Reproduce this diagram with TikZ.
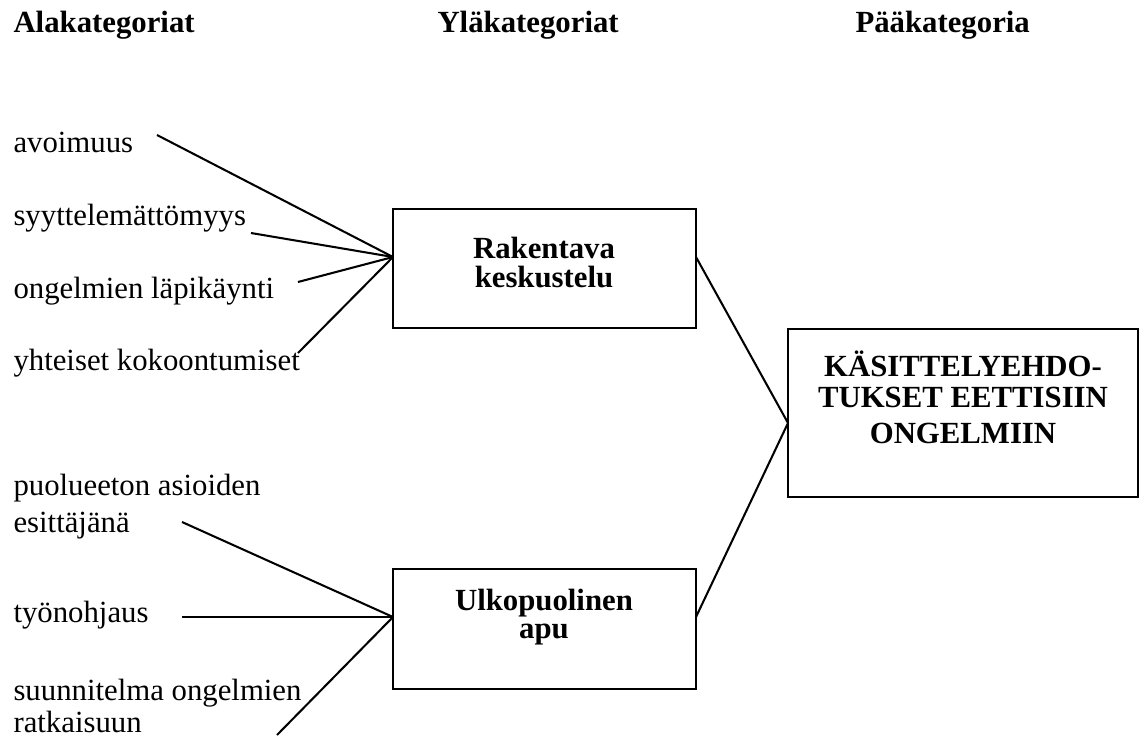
\documentclass[tikz,border=0pt]{standalone}
\usepackage{fontspec}
\setmainfont{Liberation Serif}
\usetikzlibrary{fit}
\begin{document}
\begin{tikzpicture}[x=0.39pt,y=-0.39pt,
  lbl/.style={anchor=base west,inner sep=0pt,font=\fontsize{12}{14}\selectfont},
  head/.style={anchor=base west,inner sep=0pt,font=\fontsize{12}{14}\selectfont\bfseries},
  boxtxt/.style={anchor=base,inner sep=0pt,font=\fontsize{12}{14}\selectfont\bfseries},
  catbox/.style={draw,line width=0.8pt,inner sep=0pt},
  link/.style={line width=0.8pt}]
\useasboundingbox (0,0) rectangle (1140,735);

% column headings
\node[head] (h1) at (13,32) {Alakategoriat};
\node[head] (h2) at (437,32) {Yläkategoriat};
\node[head] (h3) at (855,32) {Pääkategoria};

% subcategories
\node[lbl] (a1) at (13,152) {avoimuus};
\node[lbl] (a2) at (13,225) {syyttelemättömyys};
\node[lbl] (a3) at (13,298) {ongelmien läpikäynti};
\node[lbl] (a4) at (13,370) {yhteiset kokoontumiset};
\node[lbl] (c1) at (13,495) {puolueeton asioiden};
\node[lbl] (c1b) at (13,532) {esittäjänä};
\node[lbl] (c2) at (13,622) {työnohjaus};
\node[lbl] (c3) at (13,700) {suunnitelma ongelmien};
\node[lbl] (c3b) at (13,732) {ratkaisuun};

% category boxes
\node[catbox,fit={(393,209) (696,328)}] (b1) {};
\node[boxtxt] (b1t1) at (544,258) {Rakentava};
\node[boxtxt] (b1t2) at (544,287) {keskustelu};

\node[catbox,fit={(393,569) (696,689)}] (b2) {};
\node[boxtxt] (b2t1) at (544,610) {Ulkopuolinen};
\node[boxtxt] (b2t2) at (544,638) {apu};

\node[catbox,fit={(788,329) (1138,497)}] (b3) {};
\node[boxtxt] (b3t1) at (963,376) {KÄSITTELYEHDO-};
\node[boxtxt] (b3t2) at (963,407) {TUKSET EETTISIIN};
\node[boxtxt] (b3t3) at (963,443) {ONGELMIIN};

% connector end points
\coordinate (s1) at (157,135);
\coordinate (s2) at (251,233);
\coordinate (s3) at (298,282);
\coordinate (s4) at (298,353);
\coordinate (t1) at (182,522);
\coordinate (t2) at (182,617);
\coordinate (t3) at (277,735);
\coordinate (j1) at (393,257);
\coordinate (j1r) at (696,257);
\coordinate (j2) at (393,617);
\coordinate (j2r) at (696,617);
\coordinate (j3) at (788,423);

% connectors
\foreach \p in {s1,s2,s3,s4} \draw[link] (\p) -- (j1);
\foreach \p in {t1,t2,t3} \draw[link] (\p) -- (j2);
\draw[link] (j1r) -- (j3);
\draw[link] (j2r) -- (j3);
\end{tikzpicture}
\end{document}
